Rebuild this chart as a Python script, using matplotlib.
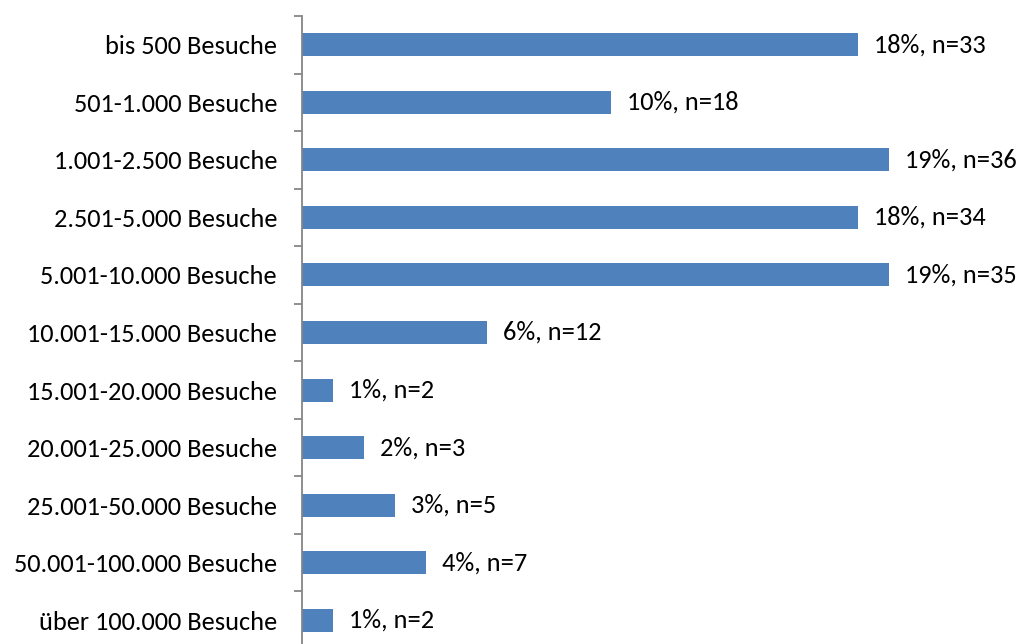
import matplotlib

matplotlib.use("Agg")
import matplotlib.pyplot as plt  # noqa: E402
from matplotlib.ticker import FixedLocator  # noqa: E402

categories = [
    "bis 500 Besuche",
    "501-1.000 Besuche",
    "1.001-2.500 Besuche",
    "2.501-5.000 Besuche",
    "5.001-10.000 Besuche",
    "10.001-15.000 Besuche",
    "15.001-20.000 Besuche",
    "20.001-25.000 Besuche",
    "25.001-50.000 Besuche",
    "50.001-100.000 Besuche",
    "über 100.000 Besuche",
]
percent = [18, 10, 19, 18, 19, 6, 1, 2, 3, 4, 1]
counts = [33, 18, 36, 34, 35, 12, 2, 3, 5, 7, 2]

BAR_COLOR = "#4F81BD"
AXIS_COLOR = "#868686"
FONT_SIZE = 19
DPI = 100

plt.rcParams["font.family"] = ["Carlito", "Lato", "DejaVu Sans"]

fig = plt.figure(figsize=(10.23, 6.44), dpi=DPI)
# Achse reicht unten leicht über den Bildrand hinaus, wie im Original
ax = fig.add_axes([302 / 1023, 1 - 649 / 644, 711 / 1023, 633 / 644])

pos = list(range(len(categories)))
ax.barh(pos, percent, height=0.4, color=BAR_COLOR)

for y, p, n in zip(pos, percent, counts):
    ax.annotate(f"{p}%, n={n}", (p, y), xytext=(11.5, 0), textcoords="offset points",
                ha="left", va="center", fontsize=FONT_SIZE, color="black")

ax.set_xlim(0, 23)
ax.set_ylim(len(categories) - 0.5, -0.5)
ax.set_xticks([])
ax.set_yticks(pos)
ax.set_yticklabels(categories, fontsize=FONT_SIZE)
ax.tick_params(axis="y", which="major", length=0, pad=18)
ax.yaxis.set_minor_locator(FixedLocator([i - 0.5 for i in range(len(categories) + 1)]))
ax.tick_params(axis="y", which="minor", length=5.8, width=1.3, color=AXIS_COLOR, direction="out")

for side in ("top", "right", "bottom"):
    ax.spines[side].set_visible(False)
ax.spines["left"].set_color(AXIS_COLOR)
ax.spines["left"].set_linewidth(1.3)

fig.savefig("out.png", dpi=DPI)
